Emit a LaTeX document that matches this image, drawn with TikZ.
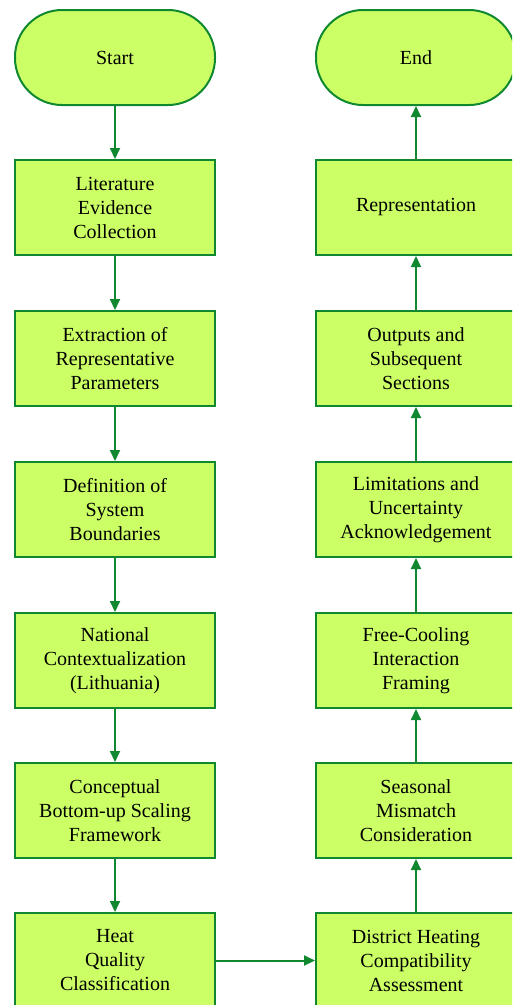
\documentclass[tikz,border=0pt]{standalone}
\usepackage{fontspec}
\setmainfont{LiberationSerif}[Extension=.ttf, UprightFont=*-Regular]
\usetikzlibrary{arrows.meta}
\definecolor{boxfill}{RGB}{204,255,102}
\definecolor{boxline}{RGB}{16,136,48}
\tikzset{
  stepbox/.style={draw=boxline, line width=2pt, fill=boxfill, rectangle,
    minimum width=200pt, minimum height=95pt, align=center, inner sep=2pt,
    font=\rmfamily\fontsize{20}{24}\selectfont},
  termbox/.style={stepbox, rounded corners=47pt},
  flow/.style={draw=boxline, line width=2pt, -{Triangle[length=11pt,width=10pt]}}
}
\begin{document}
\begin{tikzpicture}[x=1pt,y=1pt]
\clip (0,0) rectangle (512,-1005);
\fill[white] (0,0) rectangle (512,-1005);
% left column
\node[termbox] (start) at (115,-57.5) {Start};
\node[stepbox] (lit) at (115,-207.5) {Literature\\Evidence\\Collection};
\node[stepbox] (ext) at (115,-358.5) {Extraction of\\Representative\\Parameters};
\node[stepbox] (def) at (115,-509.5) {Definition of\\System\\Boundaries};
\node[stepbox] (nat) at (115,-660.5) {National\\Contextualization\\(Lithuania)};
\node[stepbox] (con) at (115,-810.5) {Conceptual\\Bottom-up Scaling\\Framework};
\node[stepbox] (heat) at (115,-960.5) {Heat\\Quality\\Classification};
% right column
\node[termbox] (end) at (416,-57.5) {End};
\node[stepbox] (rep) at (416,-207.5) {Representation};
\node[stepbox] (out) at (416,-358.5) {Outputs and\\Subsequent\\Sections};
\node[stepbox] (lim) at (416,-509.5) {Limitations and\\Uncertainty\\Acknowledgement};
\node[stepbox] (free) at (416,-660.5) {Free-Cooling\\Interaction\\Framing};
\node[stepbox] (sea) at (416,-810.5) {Seasonal\\Mismatch\\Consideration};
\node[stepbox] (dh) at (416,-960.5) {District Heating\\Compatibility\\Assessment};
% connectors
\draw[flow] (start) -- (lit);
\draw[flow] (lit) -- (ext);
\draw[flow] (ext) -- (def);
\draw[flow] (def) -- (nat);
\draw[flow] (nat) -- (con);
\draw[flow] (con) -- (heat);
\draw[flow] (heat) -- (dh);
\draw[flow] (dh) -- (sea);
\draw[flow] (sea) -- (free);
\draw[flow] (free) -- (lim);
\draw[flow] (lim) -- (out);
\draw[flow] (out) -- (rep);
\draw[flow] (rep) -- (end);
\end{tikzpicture}
\end{document}
